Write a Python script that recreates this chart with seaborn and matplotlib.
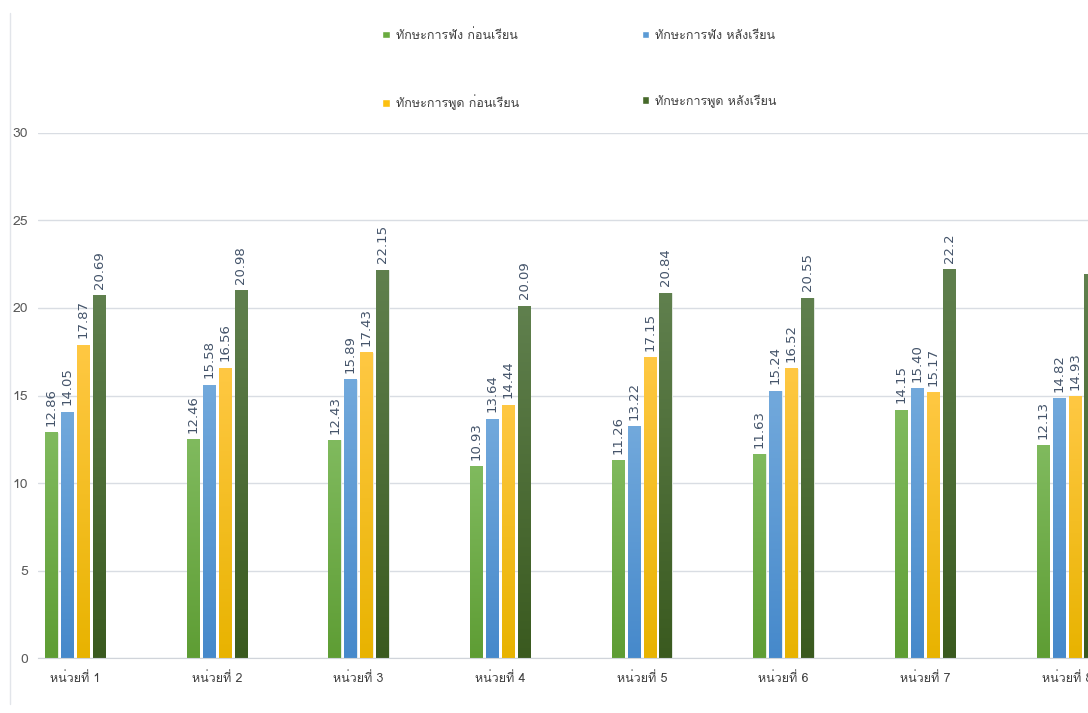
import numpy as np
import pandas as pd
import matplotlib
matplotlib.use("Agg")
import matplotlib.pyplot as plt
from matplotlib import font_manager
from matplotlib.ft2font import FT2Font
from matplotlib.colors import LinearSegmentedColormap
import seaborn as sns

units = ['หน่วยที่ 1', 'หน่วยที่ 2', 'หน่วยที่ 3', 'หน่วยที่ 4',
         'หน่วยที่ 5', 'หน่วยที่ 6', 'หน่วยที่ 7', 'หน่วยที่ 8']
series_names = ['ทักษะการฟัง ก่อนเรียน', 'ทักษะการฟัง หลังเรียน',
                'ทักษะการพูด ก่อนเรียน', 'ทักษะการพูด หลังเรียน']

listen_before = [12.86, 12.46, 12.43, 10.93, 11.26, 11.63, 14.15, 12.13]
listen_after = [14.05, 15.58, 15.89, 13.64, 13.22, 15.24, 15.40, 14.82]
speak_before = [17.87, 16.56, 17.43, 14.44, 17.15, 16.52, 15.17, 14.93]
speak_after = [20.69, 20.98, 22.15, 20.09, 20.84, 20.55, 22.2, 21.93]

# labels as printed on the chart (some keep trailing zero, some don't)
listen_before_lbl = ['12.86', '12.46', '12.43', '10.93', '11.26', '11.63', '14.15', '12.13']
listen_after_lbl = ['14.05', '15.58', '15.89', '13.64', '13.22', '15.24', '15.40', '14.82']
speak_before_lbl = ['17.87', '16.56', '17.43', '14.44', '17.15', '16.52', '15.17', '14.93']
speak_after_lbl = ['20.69', '20.98', '22.15', '20.09', '20.84', '20.55', '22.2', '21.93']

colors = ['#6aab3f', '#5b9bd5', '#fcc010', '#46692a']
# Excel-style gradient: (bottom, top)
grad_colors = [('#5e9d34', '#80ba5e'), ('#4689cb', '#72a9dc'),
               ('#e8b300', '#ffc843'), ('#3a5a1f', '#60804e')]


def find_thai_font():
    # look for any installed font that has Thai glyphs
    for f in font_manager.fontManager.ttflist:
        try:
            if 0x0E01 in FT2Font(f.fname).get_charmap():
                return f.name
        except Exception:
            pass
    return None


sns.set_style('white')
thai = find_thai_font()
plt.rcParams['font.family'] = ([thai] if thai else []) + ['DejaVu Sans']

df = pd.DataFrame({
    'unit': units * 4,
    'series': [s for s in series_names for _ in units],
    'value': listen_before + listen_after + speak_before + speak_after,
})

fig = plt.figure(figsize=(10.88, 7.13), dpi=100)
ax = fig.add_axes([0.035, 0.0771, 0.965, 0.7364])

sns.barplot(data=df, x='unit', y='value', hue='series', hue_order=series_names,
            palette=colors, saturation=1, width=0.45, gap=0.22, ax=ax, legend=True)

# paint a vertical gradient over each bar
ramp = np.linspace(0, 1, 256).reshape(-1, 1)
for cont, (c0, c1) in zip(ax.containers, grad_colors):
    cmap = LinearSegmentedColormap.from_list('g', [c0, c1])
    for bar in cont:
        x0, w, h = bar.get_x(), bar.get_width(), bar.get_height()
        ax.imshow(ramp, extent=[x0, x0 + w, 0, h], origin='lower', aspect='auto',
                  cmap=cmap, zorder=bar.get_zorder() + 0.1)
        bar.set_edgecolor('#eef2f0')
        bar.set_linewidth(0.6)

for cont, lbls in zip(ax.containers, [listen_before_lbl, listen_after_lbl,
                                      speak_before_lbl, speak_after_lbl]):
    ax.bar_label(cont, labels=lbls, rotation=90, padding=5, fontsize=9.5,
                 color='#44546a', family='DejaVu Sans')

ax.set_ylim(0, 30)
ax.set_yticks(range(0, 31, 5))
ax.set_xlim(-0.262, 7.15)
ax.grid(axis='y', color='#d9dde3', linewidth=1)
ax.set_axisbelow(True)
for s in ['top', 'right', 'left']:
    ax.spines[s].set_visible(False)
ax.spines['bottom'].set_color('#d0d4da')
ax.tick_params(axis='both', length=0, colors='#595959', labelsize=10)
ax.tick_params(axis='x', pad=10, labelcolor='#404040', labelsize=9)
ax.tick_params(axis='y', pad=7)
ax.set_xlabel('')
ax.set_ylabel('')

# thin frame line on the left of the chart area
fig.add_artist(plt.Line2D([0.0088, 0.0088], [0.012, 0.982], color='#e2e5ea', linewidth=1))

handles, lbl_txt = ax.get_legend_handles_labels()
order = [0, 2, 1, 3]
ax.legend([handles[i] for i in order], [lbl_txt[i] for i in order],
          ncol=2, frameon=False, loc='upper left', bbox_to_anchor=(0.341, 0.975),
          bbox_transform=fig.transFigure, handlelength=0.6, handleheight=0.6,
          handletextpad=0.5, labelspacing=4.2, columnspacing=9.8,
          fontsize=9, labelcolor='#404040', title=None)

fig.savefig('out.png', dpi=100)
